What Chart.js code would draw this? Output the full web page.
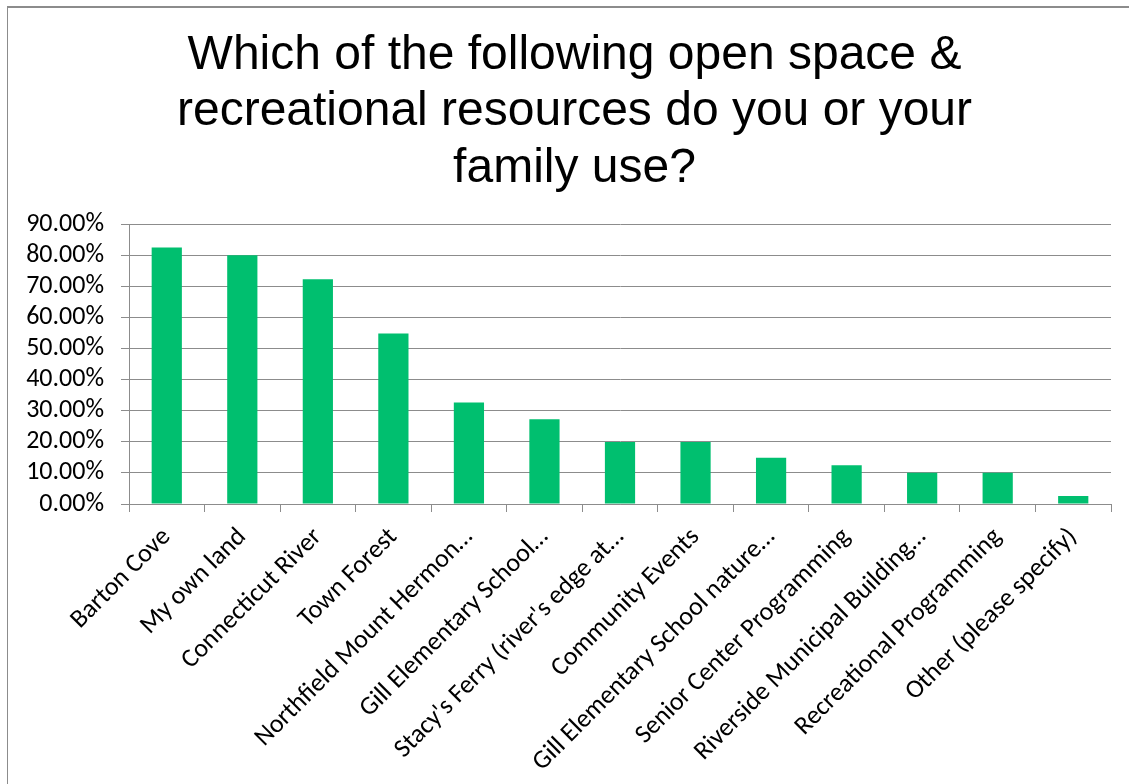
<!DOCTYPE html>
<html>
<head>
<meta charset="utf-8">
<script src="https://cdn.jsdelivr.net/npm/chart.js@4/dist/chart.umd.min.js"></script>
<style>
  html, body { margin: 0; padding: 0; background: #fff; }
  #wrap { position: relative; width: 1129px; height: 784px; overflow: hidden; }
  #frame { position: absolute; left: 7px; top: 6px; width: 1200px; height: 900px;
           border-left: 1px solid #8c8c8c; border-top: 2px solid #8c8c8c; box-sizing: border-box; }
  canvas { position: absolute; left: 0; top: 0; }
</style>
</head>
<body>
<div id="wrap">
  <div id="frame"></div>
  <canvas id="c" width="1129" height="784"></canvas>
</div>
<script>
const titleLines = [
  "Which of the following open space &",
  "recreational resources do you or your",
  "family use?"
];
const categories = [
  "Barton Cove",
  "My own land",
  "Connecticut River",
  "Town Forest",
  "Northfield Mount Hermon…",
  "Gill Elementary School…",
  "Stacy's Ferry (river's edge at…",
  "Community Events",
  "Gill Elementary School nature…",
  "Senior Center Programming",
  "Riverside Municipal Building…",
  "Recreational Programming",
  "Other (please specify)"
];
const usePercent = [82.6, 80.1, 72.4, 54.9, 32.7, 27.3, 20.0, 20.0, 14.9, 12.5, 10.1, 10.1, 2.6];
const yTicks = [0, 10, 20, 30, 40, 50, 60, 70, 80, 90];

const labelFont = "Carlito, Calibri, Lato, sans-serif";

new Chart(document.getElementById('c'), {
  type: 'bar',
  data: {
    labels: categories,
    datasets: [{
      data: usePercent,
      backgroundColor: '#00BF6F',
      borderWidth: 0,
      barPercentage: 0.40,
      categoryPercentage: 1.0
    }]
  },
  options: {
    responsive: false,
    animation: false,
    layout: { padding: { left: 20, right: 0, top: 0, bottom: 0 } },
    plugins: {
      legend: { display: false },
      tooltip: { enabled: false },
      title: {
        display: true,
        text: titleLines,
        color: '#000',
        font: { family: "'Liberation Sans', Arial, sans-serif", size: 48, weight: 'normal', lineHeight: 1.17 },
        padding: { top: 28, bottom: 28 }
      }
    },
    scales: {
      x: {
        afterFit: (axis) => { axis.height = 280; },
        grid: { display: true, offset: true, drawOnChartArea: false, drawTicks: true, tickLength: 8, color: '#8c8c8c' },
        border: { display: true, color: '#8c8c8c', width: 1 },
        ticks: {
          autoSkip: false, maxRotation: 45, minRotation: 45,
          color: '#000', padding: 10,
          font: { family: labelFont, size: 26 }
        }
      },
      y: {
        min: 0, max: 90,
        afterFit: (axis) => { axis.width = 109; },
        afterBuildTicks: (axis) => { axis.ticks = yTicks.map(v => ({ value: v })); },
        grid: { color: '#8c8c8c', lineWidth: 1, drawTicks: true, tickLength: 8 },
        border: { display: true, color: '#8c8c8c', width: 1 },
        ticks: {
          autoSkip: false,
          color: '#000', padding: 17,
          font: { family: labelFont, size: 26 },
          callback: (v) => Number(v).toFixed(2) + '%'
        }
      },
      yRight: {
        type: 'linear',
        position: 'right',
        display: true,
        afterFit: (axis) => { axis.width = 18; },
        grid: { display: false, drawTicks: false },
        border: { display: false },
        ticks: { display: false }
      }
    }
  }
});
</script>
</body>
</html>
